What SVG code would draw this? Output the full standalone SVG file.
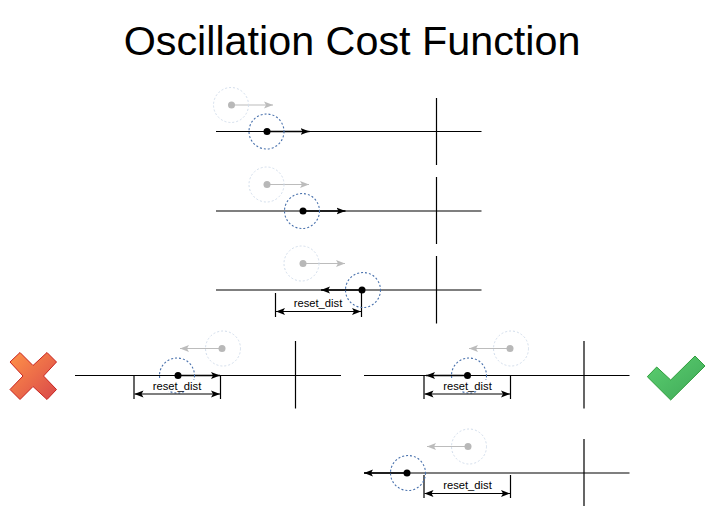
<svg xmlns="http://www.w3.org/2000/svg" width="715" height="513" viewBox="0 0 715 513">
<style>
.ln{stroke:#000;stroke-width:1.2;fill:none}
.mv{stroke:#000;stroke-width:1.5;fill:none;marker-end:url(#ah)}
.gh{stroke:#bcbcbc;stroke-width:1.2;fill:none;marker-end:url(#ag)}
.dim{stroke:#000;stroke-width:1.2;fill:none;marker-start:url(#ah2);marker-end:url(#ah)}
.cb{fill:none;stroke:#4a72ad;stroke-width:1.100;stroke-dasharray:2 2}
.cg{fill:none;stroke:#d3deec;stroke-width:1;stroke-dasharray:2 2}
.db{fill:#000}
.dg{fill:#b8b8b8}
.lb{font-family:"Liberation Sans",Arial,sans-serif;font-size:11.200px;fill:#000;text-anchor:middle}
</style>
<defs>
<marker id="ah" markerUnits="userSpaceOnUse" markerWidth="10" markerHeight="8" refX="9" refY="4" orient="auto"><path d="M0 .5L9 4L0 7.500L2 4Z" fill="#000"/></marker>
<marker id="ah2" markerUnits="userSpaceOnUse" markerWidth="10" markerHeight="8" refX="0" refY="4" orient="auto"><path d="M9 .5L0 4L9 7.500L7 4Z" fill="#000"/></marker>
<marker id="ag" markerUnits="userSpaceOnUse" markerWidth="10" markerHeight="8" refX="9" refY="4" orient="auto"><path d="M0 .5L9 4L0 7.500L2 4Z" fill="#bcbcbc"/></marker>
<linearGradient id="gx" x1="0" y1="0" x2="1" y2="1"><stop offset="0" stop-color="#ff9248"/><stop offset="1" stop-color="#d9484a"/></linearGradient>
<linearGradient id="gc" x1="0" y1="0" x2="1" y2="1"><stop offset="0" stop-color="#5cd070"/><stop offset="1" stop-color="#3fa858"/></linearGradient>
</defs>
<text id="title" x="352" y="54.500" font-family="'Liberation Sans',Arial,sans-serif" font-size="41.300" text-anchor="middle" fill="#000">Oscillation Cost Function</text>
<g id="connectors">
<path class="ln" d="M216 131.500H481.500M436.500 98V165"/>
<path class="ln" d="M216 211H481.500M436.500 177V244"/>
<path class="ln" d="M216 290H481.500M436.500 256V323.500"/>
<path class="ln" d="M75 375.500H341M295.500 341V408.500"/>
<path class="ln" d="M364 375.500H629.500M584 341V408.500"/>
<path class="ln" d="M364 473H629.500M584 439V506"/>
<path class="gh" d="M231 105H273"/>
<path class="gh" d="M267 184.500H309"/>
<path class="gh" d="M303 263.500H345"/>
<path class="gh" d="M222 348.500H180"/>
<path class="gh" d="M510 348.500H469"/>
<path class="gh" d="M468 446.500H427"/>
<path class="mv" d="M267 131.500H309.500"/>
<path class="mv" d="M303 211H345.500"/>
<path class="mv" d="M362 290H321"/>
<path class="mv" d="M178 375.500H220"/>
<path class="mv" d="M467.500 375.500H426"/>
<path class="mv" d="M407 473H364"/>
<path class="ln" d="M275.500 293V317M361.500 290V317M134 375.500V399M220.500 375.500V399M424 375.500V399M510.500 375.500V399M424 475V498M510.500 475V498"/>
</g>
<g id="node-1"><circle class="cg" cx="231" cy="105" r="17.500"/><circle class="dg" cx="231.500" cy="105" r="3.500"/><circle class="cb" cx="266.500" cy="131.500" r="17.500"/><circle class="db" cx="267" cy="131.500" r="3.500"/></g>
<g id="node-2"><circle class="cg" cx="266.500" cy="184.500" r="17.500"/><circle class="dg" cx="267" cy="184.500" r="3.500"/><circle class="cb" cx="302" cy="211" r="17.500"/><circle class="db" cx="303" cy="211" r="3.500"/></g>
<g id="node-3"><circle class="cg" cx="301.500" cy="263.500" r="17.500"/><circle class="dg" cx="303" cy="263.500" r="3.500"/><circle class="cb" cx="363" cy="290" r="17.500"/><circle class="db" cx="362" cy="290" r="3.500"/></g>
<g id="node-4"><circle class="cg" cx="223" cy="348.500" r="17.500"/><circle class="dg" cx="222" cy="348.500" r="3.500"/><circle class="cb" cx="177" cy="375.500" r="17.500"/><circle class="db" cx="178" cy="375.500" r="3.500"/></g>
<g id="node-5"><circle class="cg" cx="511" cy="348.500" r="17.500"/><circle class="dg" cx="510" cy="348.500" r="3.500"/><circle class="cb" cx="469" cy="375.500" r="17.500"/><circle class="db" cx="467.500" cy="375.500" r="3.500"/></g>
<g id="node-6"><circle class="cg" cx="469" cy="446.500" r="17.500"/><circle class="dg" cx="468" cy="446.500" r="3.500"/><circle class="cb" cx="408" cy="473" r="17.500"/><circle class="db" cx="407" cy="473" r="3.500"/></g>
<g id="dim-1"><path class="dim" d="M276 311.500H361"/><text class="lb" x="318" y="307">reset_dist</text></g>
<g id="dim-2"><rect x="152" y="380" width="50" height="11" fill="#fff"/><path class="dim" d="M134.500 394H220"/><text class="lb" x="177" y="389.500">reset_dist</text></g>
<g id="dim-3"><rect x="443" y="380" width="50" height="11" fill="#fff"/><path class="dim" d="M424.500 394H510"/><text class="lb" x="467.500" y="389.500">reset_dist</text></g>
<g id="dim-4"><path class="dim" d="M424.500 493.500H510"/><text class="lb" x="467.500" y="489">reset_dist</text></g>
<g id="cross"><path d="M20 352.500L33 365.500L47 352.500L56.500 362L43.500 376L56.500 389.500L47 399.500L33 386.500L20 399.500L10 389.500L23 376L10 362Z" fill="url(#gx)" stroke="#c8221e" stroke-width="1"/></g>
<g id="check"><path d="M695 356L705 366L670.700 400L647.300 376.700L656.700 367L670.700 380Z" fill="url(#gc)" stroke="#2f9e3c" stroke-width="1"/></g>
</svg>
